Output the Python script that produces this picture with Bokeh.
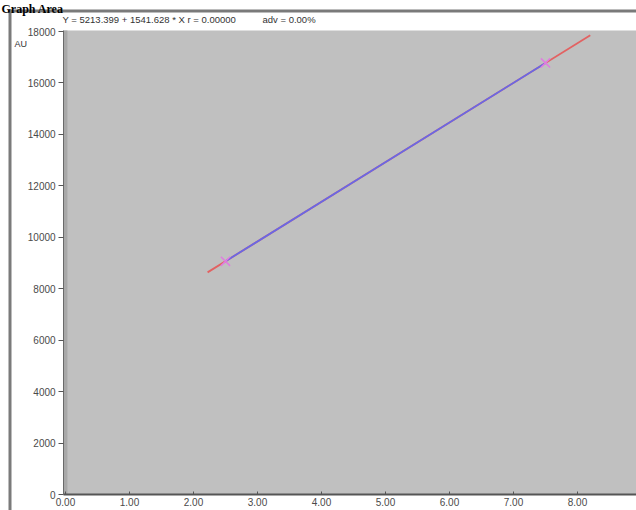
from bokeh.plotting import figure
from bokeh.models import (FixedTicker, Label, BoxAnnotation,
                          CustomJSTickFormatter, Range1d)
from bokeh.embed import file_html
from bokeh.resources import INLINE

# Calibration standards (amount vs. response)
std_amount = [2.5, 7.5]
std_response = [9067.5, 16775.6]

# Linear fit: Y = intercept + slope * X
intercept = 5213.399
slope = 1541.628
fit_x = [2.22, 8.2]

y_ticks = [0, 2000, 4000, 6000, 8000, 10000, 12000, 14000, 16000, 18000]
x_ticks = [0, 1, 2, 3, 4, 5, 6, 7, 8]

fit_text = "Y = 5213.399 + 1541.628 * X r = 0.00000"
dev_text = "adv = 0.00%"

W, H = 636, 510
# The frame fills the page; the graph box sits inside it, with the axes
# pinned to its left and bottom edges.
x_lo, x_hi = -0.03, 8.95
y_lo, y_hi = 0, 18040
x_per_px = 1 / 64.0
y_per_px = 18000 / 463.0
p = figure(width=W, height=H, output_backend="svg", toolbar_location=None,
           x_range=Range1d(-65 * x_per_px, (W - 65) * x_per_px),
           y_range=Range1d(-16 * y_per_px, 18000 + 31 * y_per_px),
           min_border=0)
p.background_fill_color = "white"
p.border_fill_color = "white"
p.outline_line_color = None
p.grid.visible = False

# grey graph area and its darker left edge
p.add_layout(BoxAnnotation(left=x_lo, right=x_hi, bottom=y_lo, top=y_hi,
                           fill_color="#c0c0c0", fill_alpha=1.0,
                           line_color=None, level="underlay"))
p.add_layout(BoxAnnotation(left=x_lo, right=0.03, bottom=y_lo, top=y_hi,
                           fill_color="#a9a9a9", fill_alpha=1.0,
                           line_color=None, level="underlay"))

tick_font = "Liberation Sans"
for ax in (p.xaxis[0], p.yaxis[0]):
    ax.major_label_text_font = tick_font
    ax.major_label_text_font_size = "10px"
    ax.major_label_text_color = "#4a4a4a"
    ax.minor_tick_line_color = None
    ax.major_tick_line_color = "#555555"

p.yaxis.fixed_location = x_lo
p.yaxis.bounds = (y_lo, y_hi)
p.yaxis.ticker = FixedTicker(ticks=y_ticks)
p.yaxis.major_tick_out = 5
p.yaxis.major_tick_in = 0
p.yaxis.major_label_standoff = 3
p.yaxis.axis_line_color = "#6a6a6a"
p.yaxis.axis_line_width = 1

p.xaxis.fixed_location = 0
p.xaxis.bounds = (x_lo, x_hi)
p.xaxis.ticker = FixedTicker(ticks=x_ticks)
p.xaxis.formatter = CustomJSTickFormatter(code="return tick.toFixed(2);")
p.xaxis.major_tick_out = 0
p.xaxis.major_tick_in = 3
p.xaxis.major_label_standoff = 3
p.xaxis.axis_line_color = "#555555"
p.xaxis.axis_line_width = 2

# page frame: left rule and top rule around the graph
p.add_layout(BoxAnnotation(left=8, right=11, top=10, bottom=H,
                           left_units="canvas", right_units="canvas",
                           top_units="canvas", bottom_units="canvas",
                           fill_color="#7a7a7a", fill_alpha=1.0,
                           line_color=None))
p.add_layout(BoxAnnotation(left=8, right=W, top=9, bottom=12,
                           left_units="canvas", right_units="canvas",
                           top_units="canvas", bottom_units="canvas",
                           fill_color="#7a7a7a", fill_alpha=1.0,
                           line_color=None))

# extended fit line and the segment spanning the standards
fit_y = [intercept + slope * x for x in fit_x]
p.line(fit_x, fit_y, line_color="#e26262", line_width=1.8)
std_fit = [intercept + slope * x for x in std_amount]
p.line(std_amount, std_fit, line_color="#6868e6", line_width=1.8)
p.scatter(std_amount, std_response, marker="x", size=13,
          line_color="#e07ce0", line_width=1.5)

# page furniture around the graph
p.add_layout(Label(x=1, y=8, x_units="canvas", y_units="canvas",
                   text="Graph Area", text_font="Liberation Serif",
                   text_font_style="bold", text_font_size="12px",
                   text_color="black", text_baseline="alphabetic"))
p.add_layout(Label(x=62, y=19, x_units="canvas", y_units="canvas",
                   text=fit_text, text_font=tick_font, text_font_size="9.5px",
                   text_color="#333333", text_baseline="middle"))
p.add_layout(Label(x=262, y=19, x_units="canvas", y_units="canvas",
                   text=dev_text, text_font=tick_font, text_font_size="9.5px",
                   text_color="#333333", text_baseline="middle"))
p.add_layout(Label(x=14, y=43, x_units="canvas", y_units="canvas",
                   text="AU", text_font=tick_font, text_font_size="9px",
                   text_color="#333333", text_baseline="middle"))

open("out.html", "w").write(file_html(p, INLINE))
